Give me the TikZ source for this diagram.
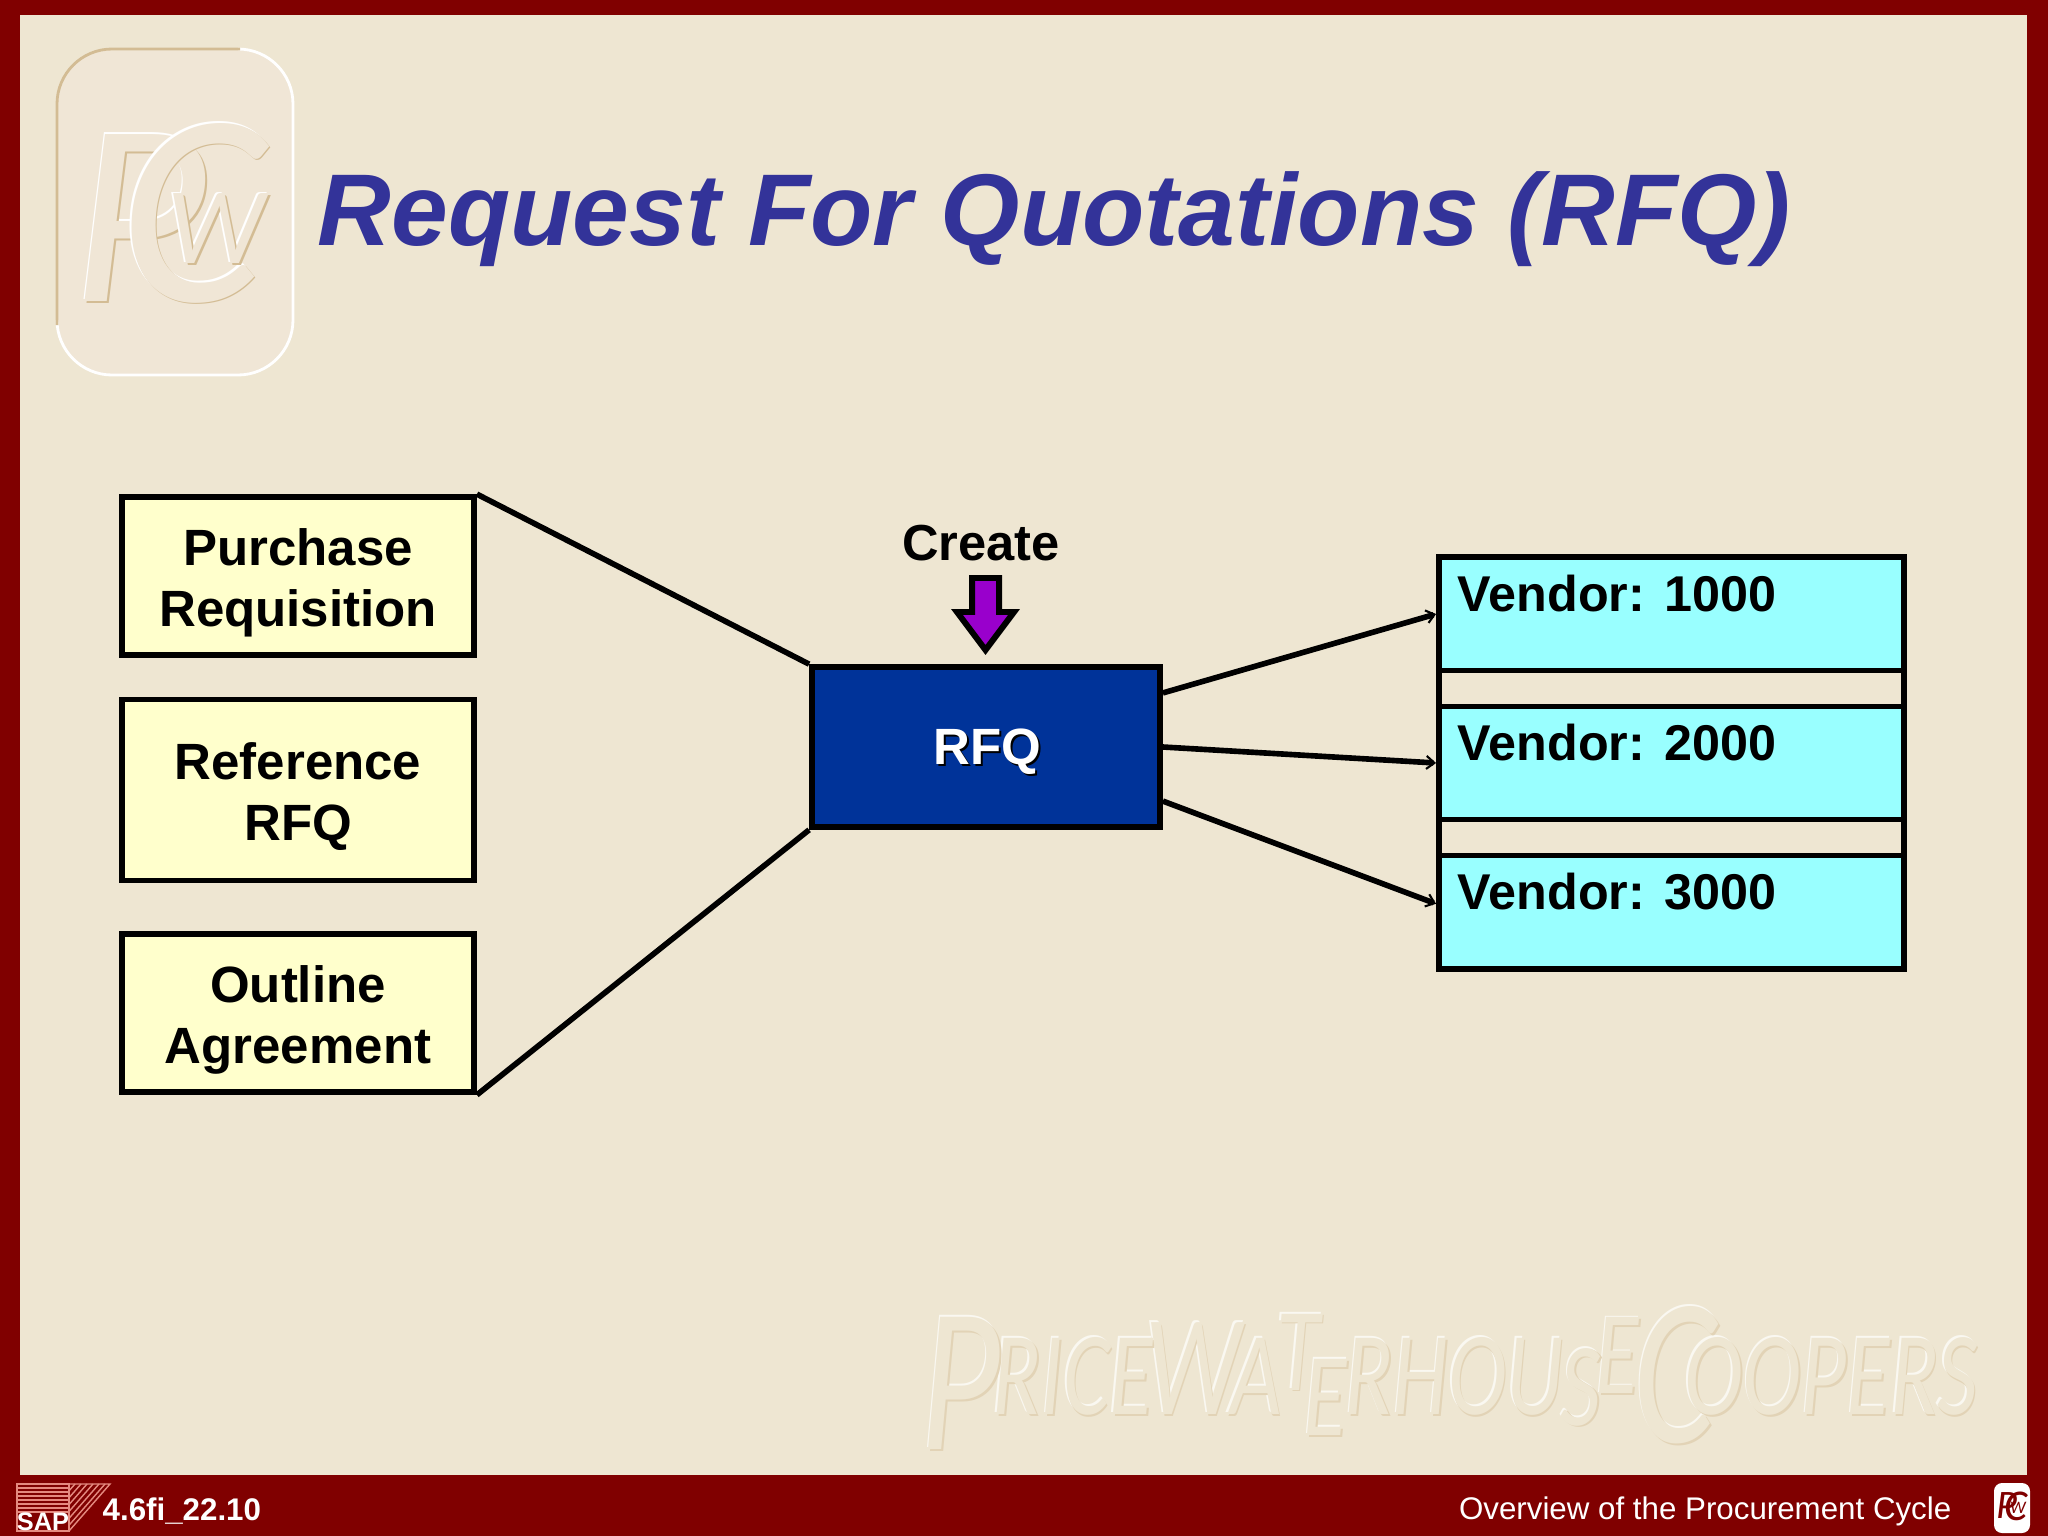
\documentclass[tikz,border=0pt]{standalone}
\usepackage{fontspec}
\setmainfont{Liberation Sans}
\newfontfamily\logofont{Carlito}
\usetikzlibrary{arrows.meta}
\definecolor{maroon_bg}{HTML}{800000}
\definecolor{cream_bg}{HTML}{EEE6D2}
\definecolor{logo_bg}{HTML}{F0E6D6}
\definecolor{emboss_t}{HTML}{D3BC94}
\definecolor{sap_line}{HTML}{E58A80}
\definecolor{yellow_box}{HTML}{FFFFCC}
\definecolor{blue_box}{HTML}{003399}
\definecolor{cyan_box}{HTML}{99FFFF}
\definecolor{title_c}{HTML}{333399}
\definecolor{arrow_c}{HTML}{9900CC}
\tikzset{
  treebox/.style = {align=center, inner sep=0pt, draw=black, line width=1.6pt,
    font=\fontsize{14.5}{17.3}\selectfont\bfseries},
  box_y/.style = {treebox, fill=yellow_box, minimum width=3.52cm,
    minimum height=1.58cm},% left boxes
  box_b/.style = {treebox, fill=blue_box, minimum width=3.48cm,
    minimum height=1.6cm},% blue box
  box_v/.style = {treebox, fill=cyan_box, minimum width=4.65cm,
    minimum height=1.13cm, align=left, text width=4.27cm,
    font=\fontsize{14.3}{17.3}\selectfont\bfseries},% vendor rows
  cap_t/.style = {inner sep=0pt, font=\fontsize{29}{31}\selectfont\bfseries\itshape, text=title_c},
  foot_t/.style = {inner sep=0pt, text=white},
  emb_t/.style = {inner sep=0pt},
  link/.style = {line width=1.6pt},
  vlink/.style = {line width=1.6pt, -{Straight Barb[length=0.8mm,width=1.3mm,line width=0.6pt]}}
}
% one embossed text: name, place, fill colour, font size, text
\newcommand{\embossed}[5]{
  \node[emb_t, text=emb_hi, font=\logofont\itshape\fontsize{#4}{#4}\selectfont] (#1w) at ([shift={(-1.6,-1.6)}]#2) {#5};
  \node[emb_t, text=emb_lo, font=\logofont\itshape\fontsize{#4}{#4}\selectfont] (#1t) at ([shift={(1.6,1.6)}]#2) {#5};
  \node[emb_t, text=#3, font=\logofont\itshape\fontsize{#4}{#4}\selectfont] (#1) at (#2) {#5};
}
\newcommand{\bigletter}[2]{{\fontsize{#1}{#1}\selectfont #2}}
\newcommand{\lowstrut}{\rule{0pt}{0.98em}}
\newcommand{\pwcname}{\resizebox{10.56cm}{1.08cm}{\bigletter{59}{\raisebox{-10pt}{P}}\kern-3pt RICE\kern-3pt\bigletter{41}{W}\kern-4pt A\kern-2pt\raisebox{7pt}{T}\kern-6pt\raisebox{-6pt}{E}\kern-1pt RHOU\kern-1pt\raisebox{-3pt}{S}\kern-2pt\raisebox{6pt}{E}\kern-2pt\bigletter{60}{\raisebox{-8pt}{C}}\kern-12pt OOPERS}}
\begin{document}
\begin{tikzpicture}[x=0.01cm,y=-0.01cm]
  \useasboundingbox (0,0) rectangle (2048,1536);
  \fill[maroon_bg] (0,0) rectangle (2048,1536);
  \fill[cream_bg] (20,15) rectangle (2027,1475);

  % big mark
  \fill[logo_bg, rounded corners=0.55cm] (57,49) rectangle (293,375);
  \draw[white, line width=0.8pt, rounded corners=0.55cm] (240,49) -- (293,49) -- (293,375) -- (57,375) -- (57,325);
  \draw[emboss_t, line width=0.8pt, rounded corners=0.55cm] (240,49) -- (57,49) -- (57,325);
  \colorlet{emb_hi}{white}
  \colorlet{emb_lo}{emboss_t}
  \embossed{mark_p}{139,218}{logo_bg}{74}{P}
  \embossed{mark_c}{192,213}{logo_bg}{78}{C}
  \embossed{mark_w}{216,229}{logo_bg}{31}{W}
  \node[cap_t, anchor=west] (title) at (317,219) {Request For Quotations (RFQ)};

  \colorlet{emb_hi}{white!70!cream_bg}
  \colorlet{emb_lo}{emboss_t!45!cream_bg}
  \embossed{wm}{1449,1378}{cream_bg}{34}{\pwcname}

  % left boxes
  \node[box_y] (pr) at (298,576) {\lowstrut Purchase\\Requisition};
  \node[box_y, minimum height=1.81cm] (ref) at (298,790) {\lowstrut Reference\\RFQ};
  \node[box_y] (oa) at (298,1013) {\lowstrut Outline\\Agreement};

  % blue box
  \node[box_b] (rfq) at (986,747) {};
  \node[inner sep=0pt, font=\fontsize{14.5}{16}\selectfont\bfseries, text=black] (rfq_sh) at (989,754) {RFQ};
  \node[inner sep=0pt, font=\fontsize{14.5}{16}\selectfont\bfseries, text=white] (rfq_t) at (987,752) {RFQ};
  \node[inner sep=0pt, font=\fontsize{14.4}{17}\selectfont\bfseries] (create) at (981,543) {Create};

  % down arrow
  \draw[line width=1.7pt, fill=arrow_c, line join=miter] (972,578) -- (999,578) -- (999,612) -- (1014,612) -- (985.5,650) -- (957,612) -- (972,612) -- cycle;

  % vendor rows
  \node[treebox, fill=cream_bg, minimum width=4.65cm, minimum height=4.12cm] (vback) at (1671.5,763) {};
  \node[box_v] (v1) at (1671.5,614) {\lowstrut Vendor:\kern-1.6pt{} 1000\\[-2pt]~};
  \node[box_v] (v2) at (1671.5,763) {\lowstrut Vendor:\kern-1.6pt{} 2000\\[-2pt]~};
  \node[box_v] (v3) at (1671.5,912) {\lowstrut Vendor:\kern-1.6pt{} 3000\\[-2pt]~};

  % connectors
  \draw[link] (pr.north east) -- (rfq.north west);
  \draw[link] (oa.south east) -- (rfq.south west);
  \draw[vlink] (rfq.17) -- (v1.west);
  \draw[vlink] (rfq.east) -- (v2.west);
  \draw[vlink] (rfq.-17) -- (v3.178);

  % footer
  \draw[sap_line, line width=0.4pt] (17,1484) rectangle (69,1531);
  \draw[sap_line, line width=0.4pt] (69,1484) -- (110,1484) -- (69,1531);
  \foreach \y in {1488,1492,...,1512} \draw[sap_line, line width=0.4pt] (17,\y) -- (69,\y);
  \foreach \x in {75,81,...,105} \draw[sap_line, line width=0.4pt] (\x,1484) -- (69,{1484+(\x-69)*1.146});
  \node[foot_t, font=\fontsize{7.2}{8}\selectfont\bfseries] (sap) at (43,1522) {SAP};
  \node[foot_t, anchor=west, font=\fontsize{8.9}{10}\selectfont\bfseries] (code) at (102,1511) {4.6fi\_22.10};
  \node[foot_t, anchor=east, font=\fontsize{8.9}{10}\selectfont] (cycle) at (1952,1511) {Overview of the Procurement Cycle};
  \fill[white, rounded corners=0.08cm] (1994,1483) rectangle (2030,1533);
  \node[emb_t, text=maroon_bg, font=\logofont\itshape\fontsize{11.5}{12}\selectfont] (foot_p) at (2007,1506) {P};
  \node[emb_t, text=maroon_bg, font=\logofont\itshape\fontsize{12.5}{13}\selectfont] (foot_c) at (2016,1506) {C};
  \node[emb_t, text=maroon_bg, font=\logofont\itshape\fontsize{5}{6}\selectfont] (foot_w) at (2018,1508) {W};
\end{tikzpicture}
\end{document}
